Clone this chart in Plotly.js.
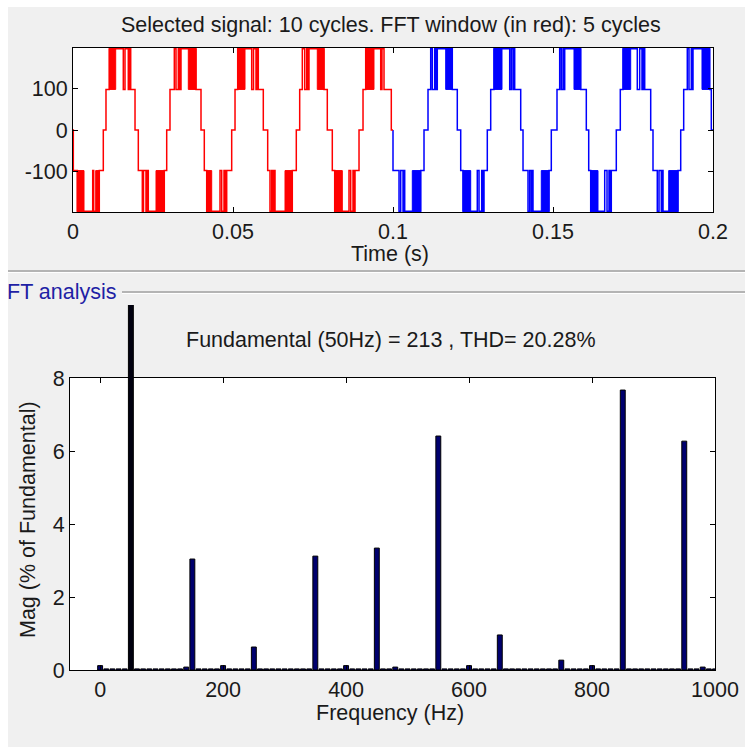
<!DOCTYPE html>
<html><head><meta charset="utf-8">
<script src="https://cdn.plot.ly/plotly-3.0.1.min.js"></script>
<style>html,body{margin:0;padding:0;background:#fff;} #chart{width:745px;height:747px;}</style>
</head><body><div id="chart"></div>
<script>
// ---------------- data ----------------
const topTitle = 'Selected signal: 10 cycles. FFT window (in red): 5 cycles';
const topXTitle = 'Time (s)';
const panelLabel = 'FT analysis';
const fftTitle = 'Fundamental (50Hz) = 213 , THD= 20.28%';
const fftYTitle = 'Mag (% of Fundamental)';
const fftXTitle = 'Frequency (Hz)';

const timeTickVals = [0, 0.05, 0.1, 0.15, 0.2];
const timeTickText = ['0', '0.05', '0.1', '0.15', '0.2'];
const voltTickVals = [-100, 0, 100];
const voltTickText = ['-100', '0', '100'];
const freqTickVals = [0, 200, 400, 600, 800, 1000];
const freqTickText = ['0', '200', '400', '600', '800', '1000'];
const magTickVals = [0, 2, 4, 6, 8];
const magTickText = ['0', '2', '4', '6', '8'];

// inverter output levels (V): zero, first step, second step
const signalLevels = [0, 98, 196];
const signalEndMs = 200;
const fftWindowEndMs = 100;

// one entry per half cycle: sign, time of step 0 -> level 1, time of step back to 0
const hcSign = [-1, 1, -1, 1, -1, 1, -1, 1, -1, 1, -1, 1, -1, 1, -1, 1, -1, 1, -1, 1];
const hcStartMs = [0.1, 10.31, 20.41, 30.31, 41.03, 50.63, 60.84, 70.84, 81.03, 90.63,
                   100.0, 110.94, 121.16, 130.53, 140.63, 151.25, 161.16, 171.03, 181.25, 190.84];
const hcEndMs = [9.47, 19.38, 29.28, 40.0, 49.59, 59.47, 69.78, 79.47, 89.38, 99.47,
                 109.69, 120.09, 129.47, 139.91, 149.47, 160.41, 169.78, 180.53, 189.91, 199.47];
// switching instants between level 1 and level 2 inside each half cycle
const hcFlipsMs = [
  [1.34, 6.16, 6.47, 8.22],
  [11.34, 15.72, 16.25, 17.28, 17.66, 18.03],
  [21.66, 22.03, 22.81, 23.13, 23.53, 28.53],
  [31.66, 32.19, 32.91, 33.28, 33.75, 38.44],
  [41.78, 45.94, 46.47, 47.19, 47.59, 48.03],
  [51.47, 55.84, 56.41, 57.19, 57.5, 57.91],
  [61.56, 62.09, 62.5, 62.81, 63.13, 68.53],
  [71.66, 72.41, 73.03, 73.44, 73.75, 78.44],
  [81.78, 86.25, 86.78, 87.5, 87.81, 88.13],
  [91.47, 96.16, 96.56, 97.19],
  [101.88, 102.41, 103.13, 103.44, 103.66, 108.66],
  [111.78, 112.28, 113.03, 113.44, 113.84, 118.53],
  [121.88, 126.34, 126.88, 127.72, 128.13, 128.44],
  [131.56, 136.47, 136.97, 137.5, 137.75, 138.03],
  [142.19, 142.72, 143.22, 143.5, 143.75, 148.75],
  [152.09, 152.59, 153.13, 153.38, 153.66, 158.66],
  [161.78, 166.16, 166.88, 167.5, 167.81, 168.22],
  [171.88, 176.34, 177.09, 177.81, 178.22, 178.66],
  [182.59, 183.13, 183.84, 184.13, 184.38, 189.06],
  [191.97, 192.5, 193.22, 193.5, 193.75, 198.97]
];
// intervals of dense PWM switching (drawn solid)
const hcBlocksMs = [
  [[1.34, 3.44], [7.09, 8.22]],
  [[11.34, 13.34]],
  [[25.94, 28.53]],
  [[36.03, 38.44]],
  [[41.78, 43.34]],
  [[51.47, 53.75]],
  [[66.25, 68.53]],
  [[76.34, 78.44]],
  [[81.78, 84.16]],
  [[91.47, 94.06]],
  [[106.03, 108.66]],
  [[116.47, 118.53]],
  [[121.88, 124.28]],
  [[131.56, 134.06]],
  [[146.34, 148.75]],
  [[156.56, 158.66]],
  [[161.78, 164.06]],
  [[171.88, 174.28]],
  [[186.16, 189.06]],
  [[196.56, 198.97]]
];

// FFT spectrum bins (Hz) and magnitude (% of fundamental)
const fundamentalHz = 50;
const binFreqHz = [0,10,20,30,40,50,60,70,80,90,100,110,120,130,140,150,160,170,180,190,
  200,210,220,230,240,250,260,270,280,290,300,310,320,330,340,350,360,370,380,390,
  400,410,420,430,440,450,460,470,480,490,500,510,520,530,540,550,560,570,580,590,
  600,610,620,630,640,650,660,670,680,690,700,710,720,730,740,750,760,770,780,790,
  800,810,820,830,840,850,860,870,880,890,900,910,920,930,940,950,960,970,980,990,1000];
const binMagPct = [0.12,0.03,0.03,0.03,0.03,100,0.03,0.03,0.03,0.03,0.03,0.03,0.03,0.03,0.08,3.04,0.03,0.03,0.03,0.03,
  0.12,0.03,0.03,0.03,0.03,0.63,0.03,0.03,0.03,0.03,0.03,0.03,0.03,0.03,0.03,3.12,0.03,0.03,0.03,0.03,
  0.12,0.03,0.03,0.03,0.03,3.34,0.03,0.03,0.08,0.03,0.03,0.03,0.03,0.03,0.03,6.41,0.03,0.03,0.03,0.03,
  0.12,0.03,0.03,0.03,0.03,0.96,0.03,0.03,0.03,0.03,0.03,0.03,0.03,0.03,0.03,0.27,0.03,0.03,0.03,0.03,
  0.12,0.03,0.03,0.03,0.03,7.67,0.03,0.03,0.03,0.03,0.03,0.03,0.03,0.03,0.03,6.27,0.03,0.03,0.08,0.03,0.03];

// ---------------- build traces ----------------
const L1 = signalLevels[1], L2 = signalLevels[2];
const sigT = [0], sigV = [signalLevels[0]];
for (let i = 0; i < hcSign.length; i++) {
  const s = hcSign[i];
  sigT.push(hcStartMs[i]); sigV.push(s * L1);
  let high = false;
  hcFlipsMs[i].forEach(f => { high = !high; sigT.push(f); sigV.push(s * (high ? L2 : L1)); });
  sigT.push(hcEndMs[i]); sigV.push(signalLevels[0]);
}
sigT.push(signalEndMs); sigV.push(signalLevels[0]);

const redX = [], redY = [], blueX = [], blueY = [];
let lastV = sigV[0];
for (let k = 0; k < sigT.length; k++) {
  if (sigT[k] < fftWindowEndMs) { redX.push(sigT[k] / 1000); redY.push(sigV[k]); lastV = sigV[k]; }
}
redX.push(fftWindowEndMs / 1000); redY.push(lastV);
blueX.push(fftWindowEndMs / 1000); blueY.push(lastV);
for (let k = 0; k < sigT.length; k++) {
  if (sigT[k] >= fftWindowEndMs) { blueX.push(sigT[k] / 1000); blueY.push(sigV[k]); }
}

const rbx = [], rby = [], bbx = [], bby = [];
hcBlocksMs.forEach((blocks, i) => {
  const s = hcSign[i];
  blocks.forEach(([a, b]) => {
    const X = b <= fftWindowEndMs ? rbx : bbx, Y = b <= fftWindowEndMs ? rby : bby;
    X.push(a / 1000, a / 1000, b / 1000, b / 1000, a / 1000, null);
    Y.push(s * L1, s * L2, s * L2, s * L1, s * L1, null);
  });
});

const RED = '#ff0000', BLUE = '#0000ff';
const hx = [], hy = [], fx = [], fy = [];
binFreqHz.forEach((f, i) => {
  if (f === fundamentalHz) { fx.push(f); fy.push(binMagPct[i]); }
  else { hx.push(f); hy.push(binMagPct[i]); }
});

const traces = [
  {x: blueX, y: blueY, type: 'scatter', mode: 'lines', line: {shape: 'hv', color: BLUE, width: 1.5}, xaxis: 'x', yaxis: 'y', hoverinfo: 'skip'},
  {x: bbx, y: bby, type: 'scatter', mode: 'lines', fill: 'toself', fillcolor: BLUE, line: {color: BLUE, width: 1}, xaxis: 'x', yaxis: 'y', hoverinfo: 'skip'},
  {x: redX, y: redY, type: 'scatter', mode: 'lines', line: {shape: 'hv', color: RED, width: 1.5}, xaxis: 'x', yaxis: 'y', hoverinfo: 'skip'},
  {x: rbx, y: rby, type: 'scatter', mode: 'lines', fill: 'toself', fillcolor: RED, line: {color: RED, width: 1}, xaxis: 'x', yaxis: 'y', hoverinfo: 'skip'},
  {x: hx, y: hy, type: 'bar', width: 8, marker: {color: '#00006e', line: {color: '#000000', width: 1}}, xaxis: 'x2', yaxis: 'y2'},
  {x: fx, y: fy, type: 'bar', width: 8, marker: {color: '#000010', line: {color: '#000000', width: 1}}, xaxis: 'x2', yaxis: 'y3'}
];

// ---------------- layout ----------------
const W = 745, H = 747;
const px = v => v / W, py = v => 1 - v / H;
const FONT = {family: 'Liberation Sans, Arial, sans-serif', size: 21.5, color: '#1a1a1a'};
const axisStyle = {
  showline: true, linecolor: '#000', linewidth: 1, mirror: 'ticks',
  ticks: 'inside', ticklen: 5, tickcolor: '#000', tickwidth: 1,
  showgrid: false, zeroline: false, tickmode: 'array', tickfont: FONT, fixedrange: true
};

const layout = {
  width: W, height: H, margin: {l: 0, r: 0, t: 0, b: 0},
  paper_bgcolor: '#ffffff', plot_bgcolor: 'rgba(0,0,0,0)',
  showlegend: false, font: FONT, barmode: 'overlay',
  xaxis: Object.assign({}, axisStyle, {domain: [px(73), px(713)], range: [0, 0.2], anchor: 'y', tickvals: timeTickVals, ticktext: timeTickText}),
  yaxis: Object.assign({}, axisStyle, {domain: [py(212), py(48)], range: [-198, 198], anchor: 'x', tickvals: voltTickVals, ticktext: voltTickText}),
  xaxis2: Object.assign({}, axisStyle, {domain: [px(70), px(715)], range: [-49, 1000], anchor: 'y2', tickvals: freqTickVals, ticktext: freqTickText}),
  yaxis2: Object.assign({}, axisStyle, {domain: [py(670), py(378)], range: [0, 8], anchor: 'x2', tickvals: magTickVals, ticktext: magTickText}),
  yaxis3: {domain: [py(670), py(305)], range: [0, 10], anchor: 'x2', visible: false, fixedrange: true},
  shapes: [
    {type: 'rect', xref: 'paper', yref: 'paper', x0: px(8), x1: 1, y0: 0, y1: py(7), fillcolor: '#f0f0f0', line: {width: 0}, layer: 'below'},
    {type: 'rect', xref: 'x domain', yref: 'y domain', x0: 0, x1: 1, y0: 0, y1: 1, fillcolor: '#ffffff', line: {width: 0}, layer: 'below'},
    {type: 'rect', xref: 'x2 domain', yref: 'y2 domain', x0: 0, x1: 1, y0: 0, y1: 1, fillcolor: '#ffffff', line: {width: 0}, layer: 'below'},
    {type: 'line', xref: 'paper', yref: 'paper', x0: px(8), x1: 1, y0: py(271), y1: py(271), line: {color: '#a0a0a0', width: 1.5}},
    {type: 'line', xref: 'paper', yref: 'paper', x0: px(8), x1: 1, y0: py(272.5), y1: py(272.5), line: {color: '#ffffff', width: 1}},
    {type: 'line', xref: 'paper', yref: 'paper', x0: px(122), x1: 1, y0: py(292), y1: py(292), line: {color: '#a0a0a0', width: 1.5}},
    {type: 'line', xref: 'paper', yref: 'paper', x0: px(122), x1: 1, y0: py(293.5), y1: py(293.5), line: {color: '#ffffff', width: 1}}
  ],
  annotations: [
    {text: topTitle, xref: 'paper', yref: 'paper', x: px(391), y: py(25), xanchor: 'center', yanchor: 'middle', showarrow: false, font: FONT},
    {text: topXTitle, xref: 'paper', yref: 'paper', x: px(390), y: py(254), xanchor: 'center', yanchor: 'middle', showarrow: false, font: FONT},
    {text: panelLabel, xref: 'paper', yref: 'paper', x: px(5), y: py(292), xanchor: 'left', yanchor: 'middle', showarrow: false, font: Object.assign({}, FONT, {color: '#1f1fa5'})},
    {text: fftTitle, xref: 'paper', yref: 'paper', x: px(390.5), y: py(340), xanchor: 'center', yanchor: 'middle', showarrow: false, font: FONT},
    {text: fftYTitle, xref: 'paper', yref: 'paper', x: px(28), y: py(520), xanchor: 'center', yanchor: 'middle', textangle: -90, showarrow: false, font: FONT},
    {text: fftXTitle, xref: 'paper', yref: 'paper', x: px(390), y: py(713), xanchor: 'center', yanchor: 'middle', showarrow: false, font: FONT}
  ]
};

Plotly.newPlot('chart', traces, layout, {displayModeBar: false, staticPlot: true});
</script>
</body></html>
